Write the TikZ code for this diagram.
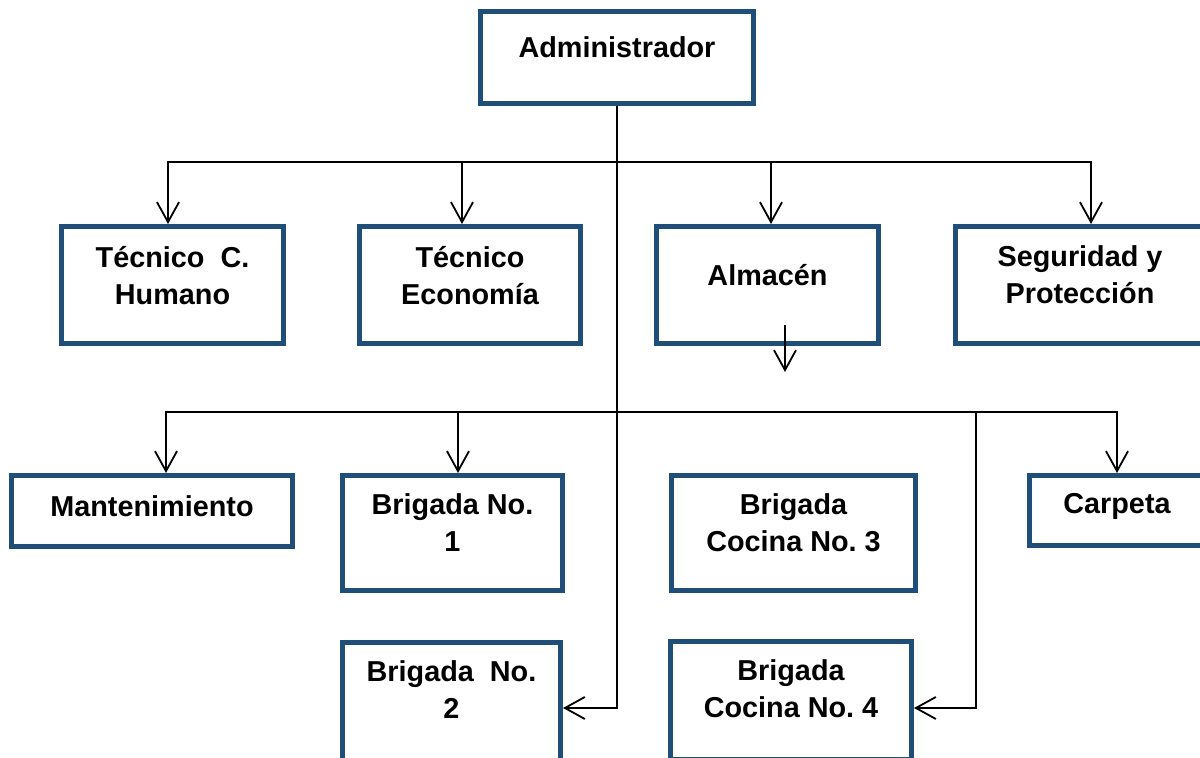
\documentclass[tikz,border=0pt]{standalone}
\usepackage{fontspec}
\setmainfont{Liberation Sans}
\usetikzlibrary{arrows.meta}
\definecolor{bord}{HTML}{1F4E79}

\begin{document}
\begin{tikzpicture}[x=0.5pt,y=-0.5pt,
   bx/.style={draw=bord,line width=2.5pt,minimum width=110pt,minimum height=58.5pt,
              font=\bfseries\fontsize{14.4}{18.5}\selectfont\frenchspacing,align=center,
              execute at end node={\rule[-#1]{0pt}{0pt}}},
   bx/.default=10pt,
   ln/.style={line width=0.9pt},
   arr/.style={ln,-{Straight Barb[length=10pt,width=11pt]}}]
  \useasboundingbox (0,0) rectangle (1200,758);
  % top
  \node[bx,minimum width=136.5pt,minimum height=46pt] (adm) at (617,57.5) {Administrador};
  % first level
  \node[bx,minimum width=111pt] (tch) at (172.5,285) {Técnico~~C.\\Humano};
  \node[bx,minimum width=110.5pt] (tec) at (470,285) {Técnico\\Economía};
  \node[bx,minimum width=111pt] (alm) at (767.5,285) {Almacén};
  \node[bx,minimum width=124.5pt] (seg) at (1080,285) {Seguridad y\\Protección};
  % second level
  \node[bx=5pt,minimum width=140.5pt,minimum height=35.5pt] (man) at (152,511) {Mantenimiento};
  \node[bx,minimum height=57.5pt] (b1) at (452.5,533) {Brigada No.\\1};
  \node[bx,minimum width=122pt,minimum height=57.5pt] (bc3) at (793.5,533) {Brigada\\Cocina No. 3};
  \node[bx=7pt,minimum width=87.5pt,minimum height=35pt] (car) at (1117,510.5) {Carpeta};
  \node[bx=12pt,minimum width=109pt,minimum height=59pt] (b2) at (451.5,701.5) {Brigada~~No.\\2};
  \node[bx=12pt,minimum width=120.5pt,minimum height=59pt] (bc4) at (791,701) {Brigada\\Cocina No. 4};
  % junctions
  \coordinate (j1) at (617,162);
  \coordinate (j2) at (617,412);
  \coordinate (j3) at (976,412);
  \coordinate (alm-d) at (785,372);
  % connectors
  \draw[arr] (adm.south) |- ([yshift=-3.25pt]b2.east);
  \draw[arr] (j1) -| ([xshift=-2.25pt]tch.north);
  \draw[arr] (j1) -| ([xshift=-4pt]tec.north);
  \draw[arr] (j1) -| ([xshift=1.75pt]alm.north);
  \draw[arr] (j1) -| ([xshift=5.5pt]seg.north);
  \draw[arr] ([xshift=8.75pt,yshift=10.5pt]alm.south) -- (alm-d);
  \draw[arr] (j2) -| ([xshift=7pt]man.north);
  \draw[arr] (j2) -| ([xshift=2.75pt]b1.north);
  \draw[arr] (j2) -| (car.north);
  \draw[arr] (j3) |- ([yshift=-3.5pt]bc4.east);
\end{tikzpicture}
\end{document}
